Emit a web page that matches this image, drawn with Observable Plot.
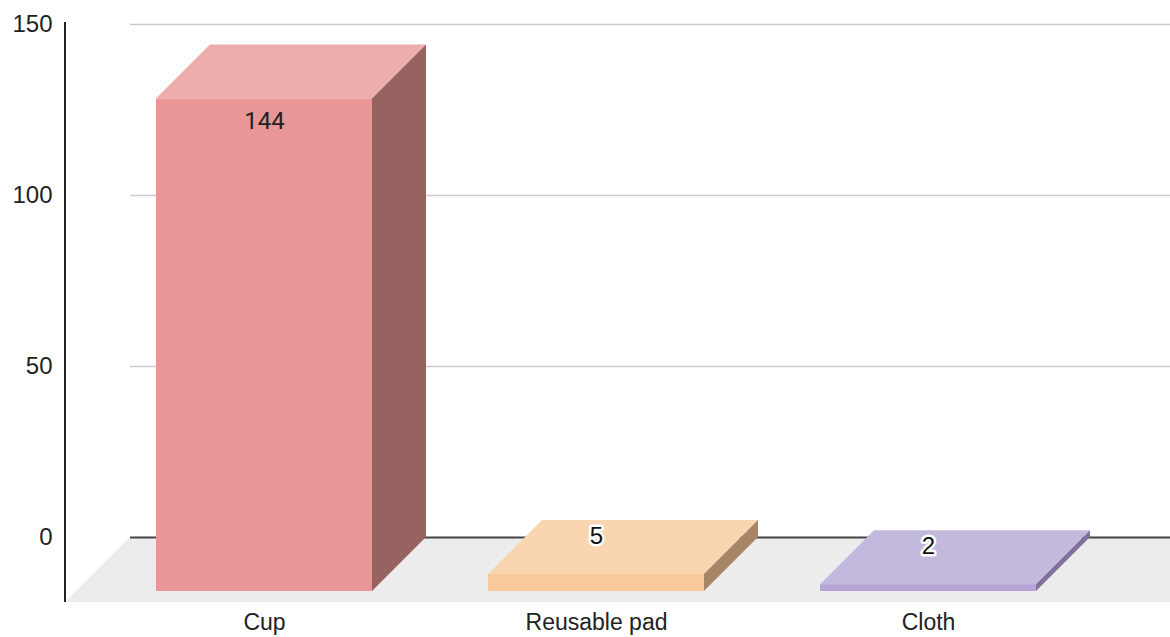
<!DOCTYPE html>
<html><head><meta charset="utf-8">
<script src="https://cdn.jsdelivr.net/npm/d3@7"></script>
<script src="https://cdn.jsdelivr.net/npm/@observablehq/plot@0.6"></script>
<style>
html,body{margin:0;padding:0;background:#fff;}
#chart svg{display:block;}
</style>
</head><body><div id="chart"></div>
<script>
// ---- data ----
const categories = ["Cup", "Reusable pad", "Cloth"];
const counts = [144, 5, 2];
const yTicks = [0, 50, 100, 150];

// ---- styles ----
const frontColors = ["#e99696", "#f8ca9b", "#b5a5d6"];
const topColors = ["#edadac", "#fad6b0", "#c3b9dd"];
const sideColors = ["#966361", "#a78668", "#7e719a"];

const data = categories.map((c, i) => ({
  category: c, value: counts[i],
  front: frontColors[i], top: topColors[i], side: sideColors[i]
}));

const D = 54;      // bar depth (px, 45deg)
const FLOOR = 65;  // floor depth (px)
const SANS = "Arial, 'Liberation Sans', sans-serif";

function getScales(args) {
  for (const a of args) if (a && typeof a.x === "function" && typeof a.y === "function") return a;
}
function getDims(args) {
  for (const a of args) if (a && typeof a.width === "number" && typeof a.marginLeft === "number") return a;
}

// floor + front y-axis line
const floorMark = (...args) => {
  const s = getScales(args), dm = getDims(args);
  const y0 = s.y(0);
  const xl = dm.marginLeft, xr = dm.width - dm.marginRight + FLOOR;
  const g = d3.create("svg:g");
  g.append("polygon")
    .attr("points", [[xl, y0], [xr, y0], [xr - FLOOR, y0 + FLOOR], [xl - FLOOR, y0 + FLOOR]].join(" "))
    .attr("fill", "#ececec");
  g.append("line")
    .attr("x1", xl - FLOOR).attr("x2", xl - FLOOR)
    .attr("y1", dm.marginTop - 2).attr("y2", y0 + FLOOR)
    .attr("stroke", "#222").attr("stroke-width", 2);
  return g.node();
};

// top and side faces of the 3D bars
const facesMark = (...args) => {
  const s = getScales(args);
  const bw = s.x.bandwidth();
  const g = d3.create("svg:g");
  for (const d of data) {
    const xb = s.x(d.category), yt = s.y(d.value), yb = s.y(0);
    g.append("polygon")
      .attr("points", [[xb, yt], [xb + bw, yt], [xb + bw - D, yt + D], [xb - D, yt + D]].join(" "))
      .attr("fill", d.top);
    g.append("polygon")
      .attr("points", [[xb + bw, yt], [xb + bw, yb], [xb + bw - D, yb + D], [xb + bw - D, yt + D]].join(" "))
      .attr("fill", d.side);
  }
  return g.node();
};

const chart = Plot.plot({
  width: 1170,
  height: 637,
  marginLeft: 130,
  marginRight: 0,
  marginTop: 24,
  marginBottom: 100,
  style: {fontFamily: SANS, fontSize: "23px", color: "#222", background: "#fff"},
  x: {type: "band", domain: categories, paddingInner: 0.35, paddingOuter: 0.24, label: null},
  y: {domain: [0, 150], label: null},
  color: {type: "identity"},
  marks: [
    floorMark,
    Plot.ruleY(yTicks.filter(t => t !== 0), {stroke: "#cccccc", strokeWidth: 1.5}),
    Plot.ruleY([0], {stroke: "#444", strokeWidth: 2}),
    facesMark,
    Plot.barY(data, {x: "category", y: "value", fill: "front", dx: -D, dy: D}),
    Plot.text(data.filter(d => d.value >= 20), {
      x: "category", y: "value", text: d => String(d.value),
      dx: -D, dy: D + 22, fontSize: 24, fill: "#222", fontFamily: "Roboto, sans-serif"
    }),
    Plot.text(data.filter(d => d.value < 20), {
      x: "category", y: "value", text: d => String(d.value),
      dx: -D, dy: 16, fontSize: 24, fill: "#111", stroke: "white", strokeWidth: 5, fontFamily: SANS
    }),
    Plot.axisY(yTicks, {tickSize: 0, tickPadding: 78, label: null, fontSize: 24}),
    Plot.axisX({tickSize: 0, tickPadding: 76, dx: -D, label: null, fontSize: 23})
  ]
});
document.getElementById("chart").appendChild(chart);
</script>
</body></html>
